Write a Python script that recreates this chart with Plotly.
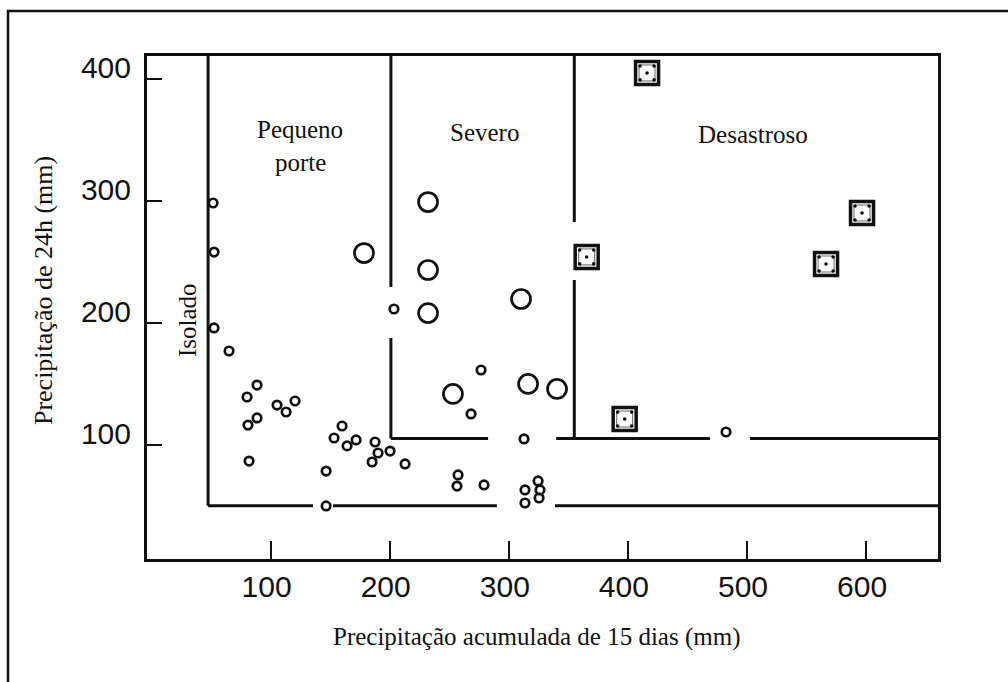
import plotly.graph_objects as go

# Axis extents (mm)
X_MIN, X_MAX = -3.8, 660.4
Y_MIN, Y_MAX = 6.3, 418.6

# Events with small circles (isolated / small-scale)
small_x = [51.7, 52.5, 52.5, 65.1, 88.6, 80.2, 88.6, 81.0, 105.4, 113.0, 120.5, 81.9,
           160.0, 153.3, 164.2, 171.8, 187.7, 190.2, 185.2, 200.3, 212.9, 146.6, 146.6,
           203.6, 276.7, 268.3, 312.8, 257.4, 256.5, 279.2, 313.6, 324.6, 326.2, 325.4,
           313.6, 482.4]
small_y = [298.1, 257.9, 195.7, 176.8, 148.9, 139.1, 121.9, 116.1, 132.5, 126.8, 135.8, 86.6,
           115.3, 105.5, 99.0, 103.9, 102.2, 93.2, 85.8, 94.8, 84.2, 78.4, 49.8,
           211.2, 161.2, 125.2, 104.7, 75.2, 66.1, 67.0, 62.9, 70.3, 62.9, 56.3,
           52.2, 110.4]

# Events with large circles (severe)
large_x = [178.4, 232.2, 232.2, 232.2, 310.3, 253.1, 316.2, 340.5]
large_y = [257.1, 298.9, 243.2, 207.9, 219.4, 141.6, 149.8, 145.7]

# Events with dotted squares (disastrous)
square_x = [416.1, 365.4, 397.3, 596.6, 566.4]
square_y = [404.7, 253.9, 121.0, 289.9, 248.1]

# Class boundaries
x_isolado, x_severo, x_desastroso = 47.5, 201.0, 355.0
y_low, y_high = 50.0, 105.0

# Horizontal boundary pieces (x-start, x-end), interrupted where points sit
low_pieces = [(x_isolado, 135.6), (152.4, 290.0), (338.8, X_MAX)]
high_pieces = [(x_severo, 282.6), (339.7, 468.9), (502.5, X_MAX)]
# Vertical boundary pieces (y-start, y-end)
isolado_pieces = [(y_low, Y_MAX)]
severo_pieces = [(y_high, 187.5), (229.3, Y_MAX)]
desastroso_pieces = [(y_high, 235.0), (282.5, Y_MAX)]

x_ticks = [100, 200, 300, 400, 500, 600]
y_ticks = [100, 200, 300, 400]

SERIF = "Liberation Serif, Times New Roman, serif"
SANS = "Liberation Sans, Arial, sans-serif"
INK = "#111"

seg_x, seg_y = [], []
for a, b in low_pieces:
    seg_x += [a, b, None]
    seg_y += [y_low, y_low, None]
for a, b in high_pieces:
    seg_x += [a, b, None]
    seg_y += [y_high, y_high, None]
for xv, pieces in ((x_isolado, isolado_pieces), (x_severo, severo_pieces),
                   (x_desastroso, desastroso_pieces)):
    for a, b in pieces:
        seg_x += [xv, xv, None]
        seg_y += [a, b, None]

fig = go.Figure()
fig.add_trace(go.Scatter(x=seg_x, y=seg_y, mode="lines",
                         line=dict(color=INK, width=3), hoverinfo="skip"))

fig.add_trace(go.Scatter(x=small_x, y=small_y, mode="markers",
                         marker=dict(symbol="circle-open", size=8.5, color=INK,
                                     line=dict(color=INK, width=2.7))))
fig.add_trace(go.Scatter(x=large_x, y=large_y, mode="markers",
                         marker=dict(symbol="circle-open", size=19, color=INK,
                                     line=dict(color=INK, width=2.7))))
fig.add_trace(go.Scatter(x=square_x, y=square_y, mode="markers",
                         marker=dict(symbol="square", size=23, color="white",
                                     line=dict(color=INK, width=3.5))))
fig.add_trace(go.Scatter(x=square_x, y=square_y, mode="markers",
                         marker=dict(symbol="square-open", size=16, color="#666",
                                     line=dict(color="#666", width=1))))

# Five-dot pattern inside each square
dx, dy = 5.9, 5.7
dot_x, dot_y = [], []
for sx, sy in zip(square_x, square_y):
    for ox, oy in ((-dx, dy), (dx, dy), (0, 0), (-dx, -dy), (dx, -dy)):
        dot_x.append(sx + ox)
        dot_y.append(sy + oy)
fig.add_trace(go.Scatter(x=dot_x, y=dot_y, mode="markers",
                         marker=dict(symbol="circle", size=3.6, color=INK,
                                     line=dict(width=0))))

ann = [
    dict(x=124.7, y=358.0, text="Pequeno"),
    dict(x=124.7, y=331.7, text="porte"),
    dict(x=279.2, y=355.5, text="Severo"),
    dict(x=505.1, y=353.9, text="Desastroso"),
    dict(x=29.8, y=202.2, text="Isolado", textangle=-90),
]
for a in ann:
    fig.add_annotation(xref="x", yref="y", showarrow=False,
                       font=dict(family=SERIF, size=25, color=INK),
                       xanchor="center", yanchor="middle", **a)

fig.add_annotation(xref="paper", yref="paper", x=0.493, y=-0.155, showarrow=False,
                   text="Precipitação acumulada de 15 dias (mm)",
                   font=dict(family=SERIF, size=25, color=INK),
                   xanchor="center", yanchor="middle")
fig.add_annotation(xref="paper", yref="paper", x=-0.130, y=0.533, showarrow=False,
                   text="Precipitação de 24h (mm)", textangle=-90,
                   font=dict(family=SERIF, size=26, color=INK),
                   xanchor="center", yanchor="middle")

# Outer frame around the whole figure
fig.add_shape(type="rect", xref="paper", yref="paper",
              x0=-0.1757, y0=-0.30, x1=1.12, y1=1.0895,
              line=dict(color=INK, width=2.5), fillcolor="rgba(0,0,0,0)")

fig.update_xaxes(range=[X_MIN, X_MAX], tickvals=x_ticks, ticktext=[str(v) for v in x_ticks],
                 showgrid=False, zeroline=False, showline=True, mirror=True,
                 linecolor=INK, linewidth=3, ticks="inside", ticklen=18,
                 tickwidth=1.5, tickcolor=INK,
                 tickfont=dict(family=SANS, size=30, color=INK),
                 ticklabelshift=-4, ticklabelstandoff=-1)
fig.update_yaxes(range=[Y_MIN, Y_MAX], tickvals=y_ticks, ticktext=[str(v) for v in y_ticks],
                 showgrid=False, zeroline=False, showline=True, mirror=True,
                 linecolor=INK, linewidth=3, ticks="inside", ticklen=15,
                 tickwidth=1.5, tickcolor=INK,
                 tickfont=dict(family=SANS, size=30, color=INK),
                 ticklabelshift=-11, ticklabelstandoff=7)

fig.update_layout(width=1008, height=682, showlegend=False,
                  margin=dict(l=147, r=70, t=56, b=123),
                  paper_bgcolor="white", plot_bgcolor="white")

fig.write_html("out.html")
